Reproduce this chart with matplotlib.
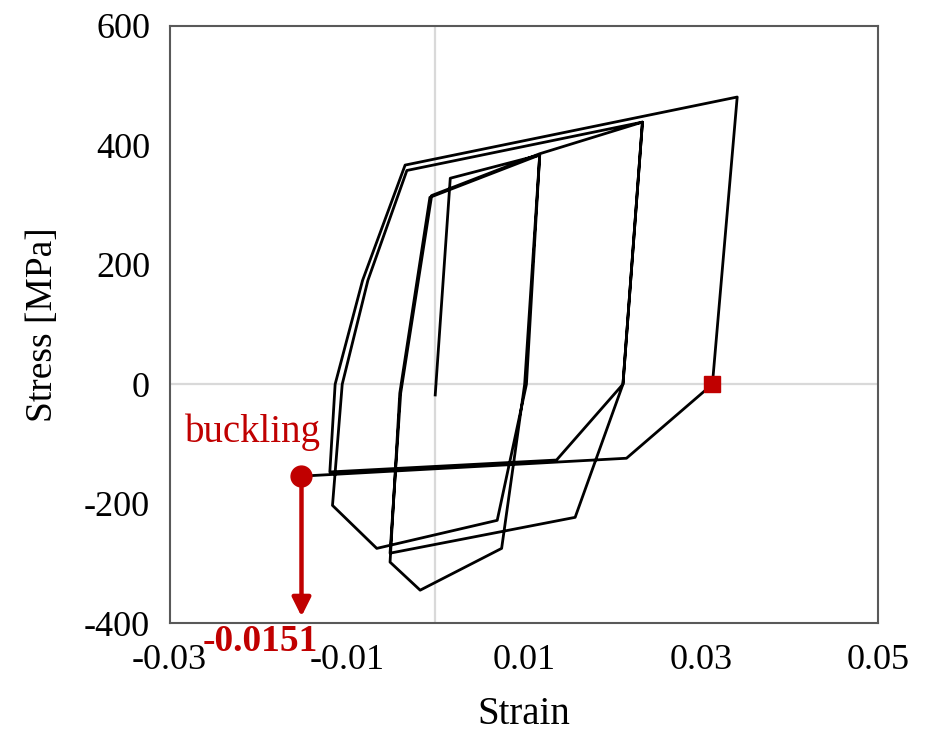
import matplotlib.pyplot as plt

plt.rcParams['font.family'] = ['Liberation Serif', 'DejaVu Serif']

# hysteresis path, strain [-] and stress [MPa], in loading order
strain = [0.0000, 0.0017, 0.0118, 0.0101, 0.0075, -0.0017, -0.0051, -0.0040,
          -0.0006, 0.0118, 0.0103, 0.0070, -0.0066, -0.0116, -0.0105, -0.0076,
          -0.0032, 0.0234, 0.0212, 0.0158, -0.0051, -0.0039, -0.0004, 0.0118,
          0.0234, 0.0212, 0.0137, -0.0119, -0.0113, -0.0082, -0.0034, 0.0341,
          0.0313, 0.0216]
stress = [-18, 345, 384, 0, -275, -345, -298, -15,
          313, 384, 0, -228, -275, -203, 0, 174,
          358, 439, 0, -223, -283, -15, 316, 386,
          439, 0, -127, -147, 0, 174, 367, 481,
          0, -124]

# zero-stress point before the last compression and the buckling point
zero_strain, zero_stress = 0.0313, 0
buckling_strain, buckling_stress = -0.0151, -154

strain = strain + [buckling_strain]
stress = stress + [buckling_stress]

xticks = [-0.03, -0.01, 0.01, 0.03, 0.05]
yticks = [-400, -200, 0, 200, 400, 600]
red = '#C00000'

fig = plt.figure(figsize=(9.3, 7.34), dpi=100)
ax = fig.add_axes([0.1823, 0.1512, 0.7618, 0.8134])

ax.axhline(0, color='#D9D9D9', lw=1.6, zorder=1)
ax.axvline(0, color='#D9D9D9', lw=1.6, zorder=1)

ax.plot(strain, stress, color='black', lw=2, zorder=2)
ax.plot(zero_strain, zero_stress, 's', color=red, ms=12, zorder=3)
ax.plot(buckling_strain, buckling_stress, 'o', color=red, ms=15, zorder=3)

# arrow from buckling point down to the strain axis
ax.annotate('', xy=(buckling_strain, -389), xytext=(buckling_strain, buckling_stress),
            arrowprops=dict(arrowstyle='-|>', color=red, lw=3.2, mutation_scale=28,
                            shrinkA=0, shrinkB=0), zorder=3)
ax.text(-0.0129, -80, 'buckling', color=red, fontsize=28, ha='right', va='center')
ax.annotate('%.4f' % buckling_strain, xy=(buckling_strain, -400), xycoords='data',
            xytext=(12, -1), textcoords='offset points', color=red, fontsize=27,
            fontweight='bold', ha='right', va='top', annotation_clip=False)

ax.set_xlim(-0.03, 0.05)
ax.set_ylim(-400, 600)
ax.set_xticks(xticks)
ax.set_xticklabels(['%.2f' % v for v in xticks])
ax.set_yticks(yticks)
ax.set_yticklabels([str(v) for v in yticks])
ax.tick_params(length=0, labelsize=26)
ax.tick_params(axis='x', pad=15)
ax.tick_params(axis='y', pad=14)

for s in ax.spines.values():
    s.set_color('#595959')
    s.set_linewidth(1.5)

ax.set_xlabel('Strain', fontsize=28, labelpad=14)
ax.set_ylabel('Stress [MPa]', fontsize=27, labelpad=17)

fig.savefig('out.png', dpi=100)
